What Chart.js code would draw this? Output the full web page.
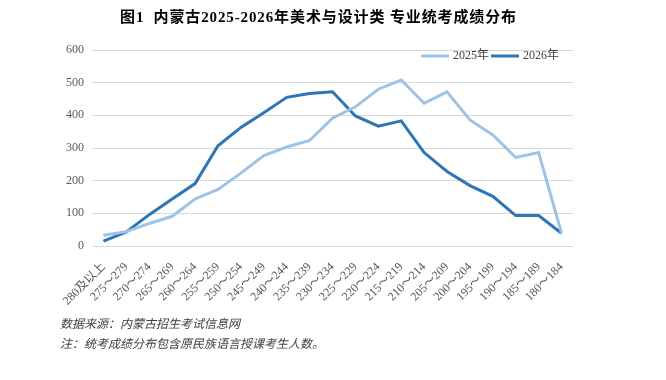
<!DOCTYPE html>
<html>
<head>
<meta charset="utf-8">
<script src="https://cdn.jsdelivr.net/npm/chart.js@4.4.0/dist/chart.umd.min.js"></script>
<style>
  html, body { margin: 0; padding: 0; background: #fff; }
  #wrap { position: relative; width: 666px; height: 380px; overflow: hidden; }
  #title { position: absolute; left: 120px; top: 7px; font-family: 'Liberation Serif', 'Noto Sans CJK SC', serif; font-weight: bold; font-size: 15px; line-height: 20px; color: #000; white-space: pre; }
  .note { position: absolute; left: 60px; font-family: 'Liberation Serif', 'Noto Sans CJK SC', serif; font-style: italic; font-size: 12px; color: #404040; white-space: pre; }
</style>
</head>
<body>
<div id="wrap">
  <canvas id="c" width="666" height="380"></canvas>
  <div id="title">图1  内蒙古2025-2026年美术与设计类 专业统考成绩分布</div>
  <div class="note" style="top:314px">数据来源：内蒙古招生考试信息网</div>
  <div class="note" style="top:334px">注：统考成绩分布包含原民族语言授课考生人数。</div>
</div>
<script>
const categories = ['280及以上','275～279','270～274','265～269','260～264','255～259','250～254','245～249','240～244','235～239','230～234','225～229','220～224','215～219','210～214','205～209','200～204','195～199','190～194','185～189','180～184'];
const series2025 = [33,44,69,91,144,173,223,277,303,323,391,426,480,508,437,472,386,340,271,286,39];
const series2026 = [15,43,96,144,191,307,363,408,455,467,472,398,367,383,286,228,185,152,93,93,39];
const seriesNames = ['2025年','2026年'];
const yTicks = [0,100,200,300,400,500,600];

const serif = "'Liberation Serif', 'Noto Sans CJK SC', serif";

// fit title to reference width
(function(){
  const t = document.getElementById('title');
  const w = t.getBoundingClientRect().width;
  const n = t.textContent.length;
  const target = 397;
  t.style.letterSpacing = ((target - w) / n) + 'px';
})();

const legendPlugin = {
  id: 'inLegend',
  afterDraw(chart) {
    const ctx = chart.ctx;
    const items = [
      {x: 421, tx: 453, ds: chart.data.datasets[0]},
      {x: 491, tx: 523, ds: chart.data.datasets[1]}
    ];
    const y = 56;
    ctx.save();
    items.forEach(it => {
      ctx.strokeStyle = it.ds.borderColor;
      ctx.lineWidth = 3;
      ctx.beginPath();
      ctx.moveTo(it.x, y);
      ctx.lineTo(it.x + 28, y);
      ctx.stroke();
      ctx.fillStyle = '#404040';
      ctx.font = '12px ' + serif;
      ctx.textBaseline = 'middle';
      ctx.textAlign = 'left';
      ctx.fillText(it.ds.label, it.tx, y);
    });
    ctx.restore();
  }
};

new Chart(document.getElementById('c'), {
  type: 'line',
  data: {
    labels: categories,
    datasets: [
      { label: seriesNames[0], data: series2025, borderColor: '#9dc3e6', backgroundColor: '#9dc3e6', borderWidth: 3, pointRadius: 0, tension: 0, fill: false },
      { label: seriesNames[1], data: series2026, borderColor: '#2e75b6', backgroundColor: '#2e75b6', borderWidth: 3, pointRadius: 0, tension: 0, fill: false }
    ]
  },
  options: {
    responsive: false,
    animation: false,
    layout: { padding: { top: 50, right: 93, left: 0, bottom: 0 } },
    plugins: { legend: { display: false }, tooltip: { enabled: false }, title: { display: false } },
    scales: {
      x: {
        offset: true,
        grid: { display: false, drawTicks: false },
        border: { display: false },
        ticks: { autoSkip: false, minRotation: 45, maxRotation: 45, padding: 14, color: '#595959', font: { family: serif, size: 12 } },
        afterFit(s) { s.height = 134; }
      },
      y: {
        min: 0, max: 600,
        grid: { color: '#d9d9d9', drawTicks: false, lineWidth: 1 },
        border: { display: false },
        afterBuildTicks(s) { s.ticks = yTicks.map(v => ({ value: v })); },
        ticks: { padding: 8, color: '#595959', font: { family: serif, size: 12 } },
        afterFit(s) { s.width = 92; }
      }
    }
  },
  plugins: [legendPlugin]
});
</script>
</body>
</html>
